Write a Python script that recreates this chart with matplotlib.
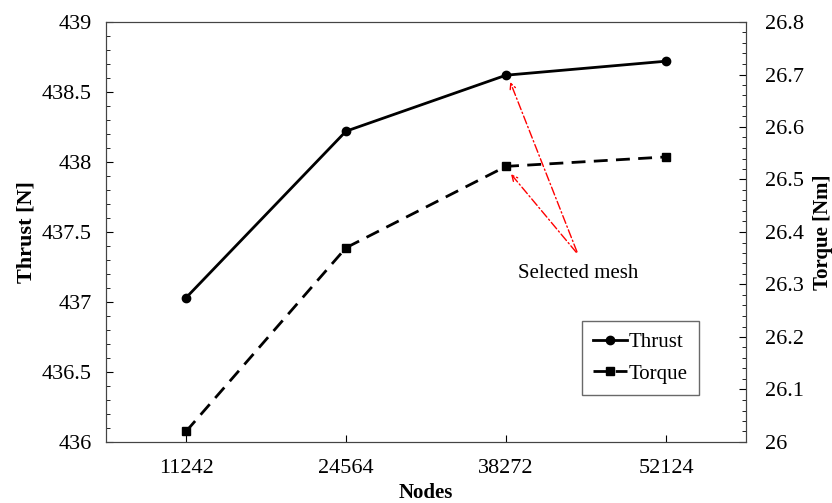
import matplotlib.pyplot as plt
from matplotlib.ticker import MultipleLocator

plt.rcParams['font.family'] = ['Liberation Serif', 'DejaVu Serif']

nodes = ['11242', '24564', '38272', '52124']
thrust = [437.03, 438.22, 438.62, 438.72]
torque = [26.02, 26.37, 26.525, 26.543]
x = list(range(len(nodes)))

fig = plt.figure(figsize=(8.32, 5.03), dpi=100)
ax = fig.add_axes([106/832, 1 - 442/503, 640/832, 420/503])
ax2 = ax.twinx()

l1, = ax.plot(x, thrust, '-o', color='black', lw=2, ms=6, label='Thrust')
l2, = ax2.plot(x, torque, '--s', color='black', lw=2, ms=6, dashes=(5, 3), label='Torque')

ax.set_xlim(-0.5, 3.5)
ax.set_ylim(436, 439)
ax2.set_ylim(26, 26.8)
ax.set_xticks(x)
ax.set_xticklabels(nodes)
ax.yaxis.set_minor_locator(MultipleLocator(0.1))
ax2.yaxis.set_minor_locator(MultipleLocator(0.02))
ax2.set_yticks([26, 26.1, 26.2, 26.3, 26.4, 26.5, 26.6, 26.7, 26.8])
ax2.set_yticklabels(['26', '26.1', '26.2', '26.3', '26.4', '26.5', '26.6', '26.7', '26.8'])
ax.set_yticks([436, 436.5, 437, 437.5, 438, 438.5, 439])
ax.set_yticklabels(['436', '436.5', '437', '437.5', '438', '438.5', '439'])

ax.tick_params(axis='both', which='major', direction='in', labelsize=16, length=5, pad=10)
ax.tick_params(axis='y', which='minor', direction='in', length=3)
ax.tick_params(axis='x', pad=12)
ax2.tick_params(axis='y', which='major', direction='in', labelsize=16, length=5, pad=14)
ax2.tick_params(axis='y', which='minor', direction='in', length=3)
for a in (ax, ax2):
    for s in a.spines.values():
        s.set_color('#444444')

ax.set_ylabel('Thrust [N]', fontsize=16, fontweight='bold', labelpad=4)
ax2.set_ylabel('Torque [Nm]', fontsize=15, fontweight='bold', labelpad=6)
ax.set_xlabel('Nodes', fontsize=15, fontweight='bold', labelpad=4)

# arrows to selected mesh
tail = (2.45, 437.34)
arrow_kw = dict(arrowstyle='->', color='red', lw=1, linestyle=(0, (6, 2, 1, 2)))
ax.annotate('', xy=(2.02, thrust[2] - 0.03), xytext=tail, arrowprops=arrow_kw)
t_y = 436 + (torque[2] - 26) / 0.8 * 3
ax.annotate('', xy=(2.02, t_y - 0.04), xytext=tail, arrowprops=arrow_kw)
ax.text(2.45, 437.2, 'Selected mesh', ha='center', va='center', fontsize=15)

leg = ax.legend([l1, l2], ['Thrust', 'Torque'], loc='lower right',
                bbox_to_anchor=(0.927, 0.112), borderaxespad=0, fontsize=15,
                frameon=True, fancybox=False, edgecolor='#444444',
                handlelength=1.6, handletextpad=0.1, borderpad=0.55,
                labelspacing=0.55)
leg.get_frame().set_linewidth(1)

fig.savefig('out.png', dpi=100)
